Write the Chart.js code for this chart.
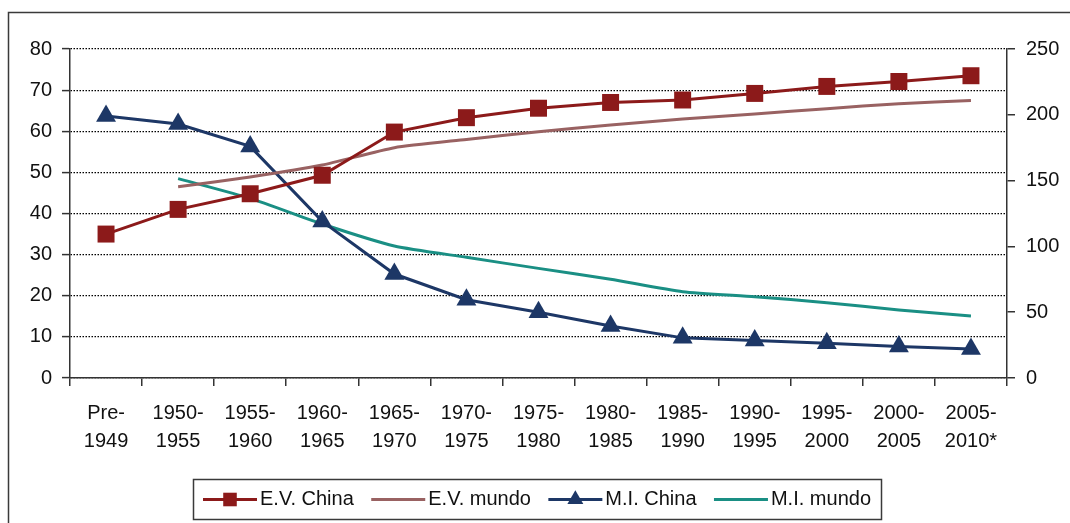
<!DOCTYPE html>
<html>
<head>
<meta charset="utf-8">
<script src="https://cdn.jsdelivr.net/npm/chart.js@4"></script>
<style>
  html, body { margin: 0; padding: 0; background: #fff; }
  #wrap { position: relative; width: 1070px; height: 523px; }
</style>
</head>
<body>
<div id="wrap"><canvas id="lifeChart" width="1070" height="523"></canvas></div>
<script>
// data

const periods = [
  ['Pre-', '1949'], ['1950-', '1955'], ['1955-', '1960'], ['1960-', '1965'],
  ['1965-', '1970'], ['1970-', '1975'], ['1975-', '1980'], ['1980-', '1985'],
  ['1985-', '1990'], ['1990-', '1995'], ['1995-', '2000'], ['2000-', '2005'],
  ['2005-', '2010*']
];

// esperanza de vida (eje izquierdo)
const evChina = [35, 41, 44.8, 49.3, 59.8, 63.3, 65.6, 67, 67.6, 69.2, 70.9, 72.1, 73.5];
const evMundo = [null, 46.5, 48.9, 51.8, 56, 58, 59.9, 61.5, 63, 64.2, 65.5, 66.7, 67.5];

// mortalidad infantil (eje derecho)
const miChina = [199, 193, 176, 119, 79, 59.5, 50, 39.5, 30.5, 28.5, 26.5, 24, 22];
const miMundo = [null, 151.5, 136.5, 117, 100.3, 91.7, 83.3, 75, 65.6, 61.8, 57.2, 51.7, 47.1];

const leftTicks = [0, 10, 20, 30, 40, 50, 60, 70, 80];
const rightTicks = [0, 50, 100, 150, 200, 250];

const FONT = "'Liberation Sans', Arial, sans-serif";
const TXT = '#111';
const AXIS = '#333';

// frame + boxed legend like the original picture
const framePlugin = {
  id: 'frameAndLegend',
  afterDraw(chart) {
    const c = chart.ctx;
    c.save();
    c.strokeStyle = '#3a3a3a';
    c.lineWidth = 1.5;
    c.beginPath();
    c.moveTo(8.5, 523);
    c.lineTo(8.5, 12.5);
    c.lineTo(1070, 12.5);
    c.stroke();

    // legend box
    const bx = 193, by = 479, bw = 688, bh = 40;
    c.strokeRect(bx + 0.5, by + 0.5, bw, bh);

    c.font = '20px ' + FONT;
    c.textBaseline = 'middle';
    c.fillStyle = TXT;
    const ds = chart.data.datasets;
    const lineLen = 54, textGap = 3, pad = 10;
    const widths = ds.map(d => c.measureText(d.label).width);
    const used = widths.reduce((a, b) => a + b, 0) + ds.length * (lineLen + textGap);
    const gap = (bw - 2 * pad - used) / (ds.length - 1);
    let x = bx + pad;
    const cy = by + bh / 2 + 0.5;
    ds.forEach((d, i) => {
      c.strokeStyle = d.borderColor;
      c.lineWidth = d.borderWidth;
      c.beginPath();
      c.moveTo(x, cy);
      c.lineTo(x + lineLen, cy);
      c.stroke();
      if (d.pointStyle && d.pointRadius > 0) {
        c.fillStyle = d.pointBackgroundColor;
        c.strokeStyle = d.pointBackgroundColor;
        Chart.helpers.drawPoint(c, {
          pointStyle: d.pointStyle,
          radius: d.pointRadius * 0.8,
          borderWidth: 0,
          rotation: 0
        }, x + lineLen / 2, cy);
      }
      c.fillStyle = TXT;
      c.fillText(d.label, x + lineLen + textGap, cy);
      x += lineLen + textGap + widths[i] + gap;
    });
    c.restore();
  }
};

const ctx = document.getElementById('lifeChart');

new Chart(ctx, {
  type: 'line',
  data: {
    labels: periods,
    datasets: [
      {
        label: 'E.V. China',
        data: evChina,
        yAxisID: 'yLeft',
        borderColor: '#8c1a1a',
        backgroundColor: '#8c1a1a',
        pointBackgroundColor: '#8c1a1a',
        borderWidth: 3,
        pointStyle: 'rect',
        pointRadius: 12,
        pointBorderWidth: 0,
        tension: 0
      },
      {
        label: 'E.V. mundo',
        data: evMundo,
        yAxisID: 'yLeft',
        borderColor: '#996262',
        backgroundColor: '#996262',
        borderWidth: 3,
        pointRadius: 0,
        tension: 0.2
      },
      {
        label: 'M.I. China',
        data: miChina,
        yAxisID: 'yRight',
        borderColor: '#1d3766',
        backgroundColor: '#1d3766',
        pointBackgroundColor: '#1d3766',
        borderWidth: 3,
        pointStyle: 'triangle',
        pointRadius: 11.5,
        pointBorderWidth: 0,
        tension: 0
      },
      {
        label: 'M.I. mundo',
        data: miMundo,
        yAxisID: 'yRight',
        borderColor: '#1a8f84',
        backgroundColor: '#1a8f84',
        borderWidth: 3,
        pointRadius: 0,
        tension: 0.2
      }
    ]
  },
  options: {
    responsive: false,
    animation: false,
    layout: { padding: { top: 49, bottom: 0, left: 0, right: 0 } },
    plugins: {
      legend: { display: false },
      tooltip: { enabled: false }
    },
    scales: {
      x: {
        offset: true,
        afterFit(scale) { scale.height = 145; },
        grid: {
          offset: true,
          drawOnChartArea: false,
          drawTicks: true,
          tickLength: 8,
          color: AXIS,
          lineWidth: 1.5
        },
        border: { color: AXIS, width: 1.5 },
        ticks: {
          color: TXT,
          font: { family: FONT, size: 20, lineHeight: 1.4 },
          padding: 13,
          maxRotation: 0,
          autoSkip: false
        }
      },
      yLeft: {
        position: 'left',
        min: 0,
        max: 80,
        afterFit(scale) { scale.width = 70; },
        afterBuildTicks(scale) { scale.ticks = leftTicks.map(v => ({ value: v })); },
        grid: {
          color: '#000',
          lineWidth: 1.2,
          tickLength: 8,
          tickColor: AXIS,
          tickWidth: 1.5
        },
        border: { color: AXIS, width: 1.5, dash: [1.5, 1.5] },
        ticks: {
          color: TXT,
          font: { family: FONT, size: 20 },
          padding: 10
        }
      },
      yRight: {
        position: 'right',
        min: 0,
        max: 250,
        afterFit(scale) { scale.width = 63; },
        afterBuildTicks(scale) { scale.ticks = rightTicks.map(v => ({ value: v })); },
        grid: {
          drawOnChartArea: false,
          tickLength: 8,
          color: AXIS,
          lineWidth: 1.5
        },
        border: { color: AXIS, width: 1.5 },
        ticks: {
          color: TXT,
          font: { family: FONT, size: 20 },
          padding: 11
        }
      }
    }
  },
  plugins: [framePlugin]
});
</script>
</body>
</html>
